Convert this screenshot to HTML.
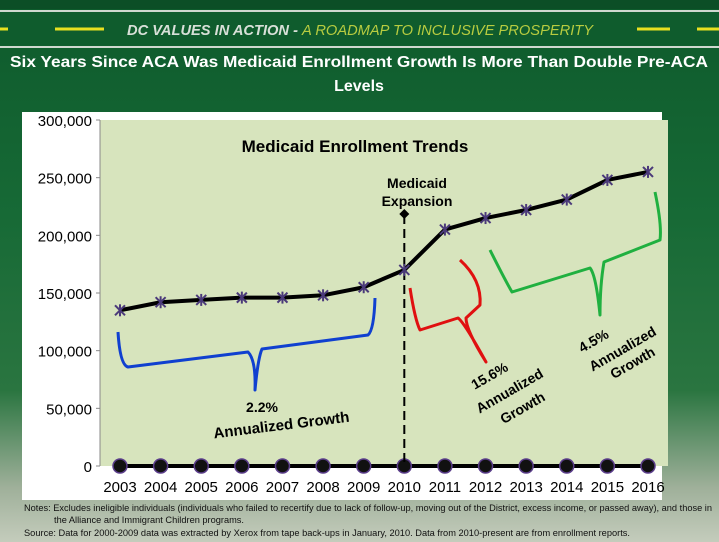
<!DOCTYPE html>
<html><head><meta charset="utf-8"><style>
body{margin:0;width:719px;height:542px;overflow:hidden;font-family:"Liberation Sans",sans-serif;}
#bg{position:absolute;left:0;top:0;width:719px;height:542px;background:linear-gradient(#0e5a2c 0%,#176a36 40%,#2a7540 72%,#9fb09a 90%,#c4ccbc 100%);}
</style></head><body>
<div id="bg"></div>
<svg width="719" height="542" style="position:absolute;left:0;top:0">
<rect x="0" y="0" width="719" height="9" fill="#0c4e26"/>
<line x1="0" y1="11" x2="719" y2="11" stroke="#cfd8cf" stroke-width="2"/>
<rect x="0" y="12" width="719" height="33" fill="#0f5c2d"/>
<line x1="0" y1="47" x2="719" y2="47" stroke="#cfd8cf" stroke-width="2"/>
<g stroke="#e8e020" stroke-width="3">
<line x1="0" y1="29" x2="8" y2="29"/><line x1="55" y1="29" x2="104" y2="29"/><line x1="637" y1="29" x2="670" y2="29"/><line x1="697" y1="29" x2="719" y2="29"/>
</g>
<text x="127" y="35" font-size="15" font-style="italic" font-weight="bold" fill="#d8e0d8" textLength="466" lengthAdjust="spacingAndGlyphs">DC VALUES IN ACTION - <tspan fill="#b8cc40" font-weight="normal">A ROADMAP TO INCLUSIVE PROSPERITY</tspan></text>
<text x="10" y="67" font-size="16" font-weight="bold" fill="#fff" textLength="698" lengthAdjust="spacingAndGlyphs">Six Years Since ACA Was Medicaid Enrollment Growth Is More Than Double Pre-ACA</text>
<text x="359" y="91" font-size="16" font-weight="bold" fill="#fff" text-anchor="middle">Levels</text>
<rect x="22" y="112" width="640" height="388" fill="#fff"/>
<g id="chart"></g>
<text x="24" y="511" font-size="9" fill="#111" textLength="688" lengthAdjust="spacingAndGlyphs">Notes: Excludes ineligible individuals (individuals who failed to recertify due to lack of follow-up, moving out of the  District, excess income, or  passed away), and those in</text>
<text x="54" y="523" font-size="9" fill="#111" textLength="190" lengthAdjust="spacingAndGlyphs">the Alliance and Immigrant Children programs.</text>
<text x="24" y="536" font-size="9" fill="#111" textLength="606" lengthAdjust="spacingAndGlyphs">Source:  Data for 2000-2009 data was extracted by Xerox from tape back-ups in January, 2010.  Data from 2010-present are from  enrollment reports.</text>
</svg>
<script>
const years=["2003","2004","2005","2006","2007","2008","2009","2010","2011","2012","2013","2014","2015","2016"];
const enrollment=[135000,142000,144000,146000,146000,148000,155000,170000,205000,215000,222000,231000,248000,255000];
const yTicks=[0,50000,100000,150000,200000,250000,300000];
const yLabels=["0","50,000","100,000","150,000","200,000","250,000","300,000"];
const NS="http://www.w3.org/2000/svg";
const g=document.getElementById('chart');
const L=100,R=668,T=120,B=466,max=300000;
const xs=i=>L+20+i*(R-L-40)/(years.length-1);
const ys=v=>B-(v/max)*(B-T);
function mk(t,a,p){const e=document.createElementNS(NS,t);for(const k in a)e.setAttribute(k,a[k]);(p||g).appendChild(e);return e;}
let e=mk('rect',{x:L,y:T,width:R-L,height:B-T,fill:'#d7e4bd'});


mk('line',{x1:L,y1:T,x2:L,y2:B,stroke:'#888'});
yTicks.forEach((v,i)=>{
 mk('line',{x1:L-4,y1:ys(v),x2:L,y2:ys(v),stroke:'#888'});
 const t=mk('text',{x:L-8,y:ys(v)+6,'font-size':15,'text-anchor':'end',fill:'#000'});t.textContent=yLabels[i];
 
 
});
years.forEach((y,i)=>{
 const t=mk('text',{x:xs(i),y:492,'font-size':15,'text-anchor':'middle',fill:'#000'});t.textContent=y;
 
 
});
const z=mk('line',{x1:xs(0),y1:B,x2:xs(years.length-1),y2:B,stroke:'#000','stroke-width':4});


years.forEach((y,i)=>{const c=mk('circle',{cx:xs(i),cy:B,r:7,fill:'#111',stroke:'#5a3d8a','stroke-width':1.5});
 
 });
const ex=xs(years.indexOf("2010"));
const dl=mk('line',{x1:ex,y1:215,x2:ex,y2:B,stroke:'#000','stroke-width':2,'stroke-dasharray':'9,5'});


mk('path',{d:`M${ex} 209 l5 5 l-5 5 l-5 -5z`,fill:'#000'});
const p=mk('polyline',{points:enrollment.map((v,i)=>xs(i)+','+ys(v)).join(' '),fill:'none',stroke:'#000','stroke-width':4,'stroke-linejoin':'round'});


enrollment.forEach((v,i)=>{const x=xs(i),y=ys(v);
 const m=mk('g',{stroke:'#4b3a7a','stroke-width':2});
 mk('line',{x1:x-5,y1:y-5,x2:x+5,y2:y+5},m);mk('line',{x1:x-5,y1:y+5,x2:x+5,y2:y-5},m);mk('line',{x1:x,y1:y-6,x2:x,y2:y+6},m);
 
 
});
function txt(s,x,y,sz,nm,rot){const t=mk('text',{x:x,y:y,'font-size':sz,'font-weight':'bold','text-anchor':'middle',fill:'#000'});t.textContent=s;
 if(rot)t.setAttribute('transform',`rotate(${rot} ${x} ${y})`);
 }
txt('Medicaid Enrollment Trends',355,152,17,'chart-title');
txt('Medicaid',417,188,14,'expansion-label');
txt('Expansion',417,206,14,'expansion-label-2');
txt('2.2%',262,412,14,'growth-label-pre');
txt('Annualized Growth',282,430,15,'growth-label-pre-2',-7);
txt('15.6%',492,380,14,'growth-label-mid',-30);
txt('Annualized',512,395,14,'growth-label-mid-2',-30);
txt('Growth',525,412,14,'growth-label-mid-3',-30);
txt('4.5%',596,345,14,'growth-label-post',-30);
txt('Annualized',625,353,14,'growth-label-post-2',-30);
txt('Growth',635,367,14,'growth-label-post-3',-30);
function br(d,c,nm){const b=mk('path',{d:d,fill:'none',stroke:c,'stroke-width':3,'stroke-linejoin':'round'});}
br('M118 332 Q120 365 128 367 L248 352 Q256 360 255 390 Q258 358 262 349 L368 335 Q374 330 375 298','#1040d0','brace-pre');
br('M410 288 Q415 320 420 330 L458 318 Q464 322 486 362 Q466 330 466 318 L480 305 Q482 280 460 260','#e01010','brace-mid');
br('M490 250 Q505 280 512 292 L590 268 Q596 275 600 315 Q600 285 604 262 L660 240 Q662 225 655 192','#20b040','brace-post');
</script>
</body></html>
